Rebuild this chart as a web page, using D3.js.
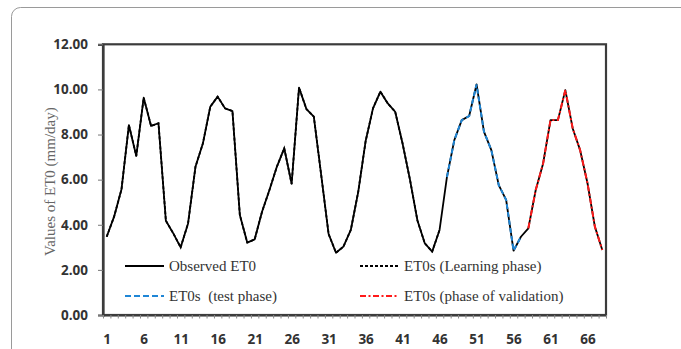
<!DOCTYPE html>
<html>
<head>
<meta charset="utf-8">
<script src="https://cdn.jsdelivr.net/npm/d3@7"></script>
<style>
  html, body { margin: 0; padding: 0; background: #fff; }
  svg { display: block; }
</style>
</head>
<body>
<svg id="chart" width="681" height="349"></svg>
<script>
// Monthly reference evapotranspiration, observed and simulated (mm/day)
const periods = d3.range(1, 69);
const observed = [
  3.47, 4.36, 5.57, 8.42, 7.05, 9.63, 8.38, 8.50, 4.18, 3.62,
  3.00, 4.06, 6.57, 7.60, 9.23, 9.68, 9.16, 9.04, 4.43, 3.21,
  3.35, 4.58, 5.54, 6.57, 7.39, 5.81, 10.08, 9.13, 8.79, 6.20,
  3.59, 2.76, 3.03, 3.77, 5.45, 7.70, 9.16, 9.90, 9.38, 9.01,
  7.60, 6.00, 4.20, 3.18, 2.81, 3.77, 6.12, 7.76, 8.64, 8.82,
  10.22, 8.13, 7.31, 5.76, 5.10, 2.85, 3.47, 3.84, 5.54, 6.72,
  8.64, 8.64, 9.97, 8.27, 7.31, 5.84, 3.91, 2.88
];
// Simulated ET0s for each phase, indexed by period
const learningPeriods = d3.range(1, 47);
const learning = [
  3.47, 4.36, 5.57, 8.42, 7.05, 9.63, 8.38, 8.50, 4.18, 3.62,
  3.00, 4.06, 6.57, 7.60, 9.23, 9.68, 9.16, 9.04, 4.43, 3.21,
  3.35, 4.58, 5.54, 6.57, 7.39, 5.81, 10.08, 9.13, 8.79, 6.20,
  3.59, 2.76, 3.03, 3.77, 5.45, 7.70, 9.16, 9.90, 9.38, 9.01,
  7.60, 6.00, 4.20, 3.18, 2.81, 3.77
];
const testPeriods = d3.range(47, 58);
const test = [6.12, 7.76, 8.64, 8.82, 10.22, 8.13, 7.31, 5.76, 5.10, 2.85, 3.47];
const validationPeriods = d3.range(58, 69);
const validation = [3.84, 5.54, 6.72, 8.64, 8.64, 9.97, 8.27, 7.31, 5.84, 3.91, 2.88];

const yTicks = [0, 2, 4, 6, 8, 10, 12];
const xLabels = [1, 6, 11, 16, 21, 26, 31, 36, 41, 46, 51, 56, 61, 66];
const legendItems = [
  { label: "Observed ET0", color: "#000", dash: null, width: 2 },
  { label: "ET0s (Learning phase)", color: "#000", dash: "3,2", width: 2 },
  { label: "ET0s\u00a0\u00a0(test phase)", color: "#1f86d6", dash: "6,3", width: 2.2 },
  { label: "ET0s (phase of validation)", color: "#ff1a1a", dash: "6,2.5,2,2.5", width: 2.2 }
];

const svg = d3.select("#chart");

// outer card frame
svg.append("rect")
  .attr("x", 11.5).attr("y", 7.5)
  .attr("width", 700).attr("height", 360)
  .attr("rx", 9).attr("ry", 9)
  .attr("fill", "none").attr("stroke", "#9a9a9a").attr("stroke-width", 1);

const plot = { left: 103, right: 606, top: 44.3, bottom: 315 };

const x = d3.scalePoint().domain(periods).range([plot.left, plot.right]).padding(0.5);
const xEdges = d3.scaleLinear().domain([0.5, 68.5]).range([plot.left, plot.right]);
const y = d3.scaleLinear().domain([0, 12]).range([plot.bottom, plot.top]);

// plot frame
svg.append("rect")
  .attr("x", plot.left).attr("y", plot.top)
  .attr("width", plot.right - plot.left).attr("height", plot.bottom - plot.top)
  .attr("fill", "none").attr("stroke", "#3c3c3c").attr("stroke-width", 2.2);

// y axis
const yAxis = svg.append("g")
  .attr("transform", `translate(${plot.left},0)`)
  .call(d3.axisLeft(y).tickValues(yTicks).tickFormat(d3.format(".2f")).tickSize(5).tickPadding(10));
yAxis.select(".domain").attr("stroke", "#3c3c3c").attr("stroke-width", 2.2);
yAxis.selectAll(".tick line").attr("stroke", "#777").attr("stroke-width", 1);
yAxis.selectAll("text")
  .attr("font-family", "'Open Sans', sans-serif").attr("font-weight", 700)
  .attr("font-size", 13.5).attr("fill", "#333");

// x axis: category boundary ticks
const xTickAxis = svg.append("g")
  .attr("transform", `translate(0,${plot.bottom})`)
  .call(d3.axisBottom(xEdges).tickValues(d3.range(0.5, 69, 1)).tickFormat("").tickSize(3.5).tickSizeOuter(0));
xTickAxis.select(".domain").attr("stroke", "#3c3c3c").attr("stroke-width", 2.2);
xTickAxis.selectAll(".tick line").attr("stroke", "#888").attr("stroke-width", 1);

// x axis labels
const xLabelAxis = svg.append("g")
  .attr("transform", `translate(0,${plot.bottom})`)
  .call(d3.axisBottom(x).tickValues(xLabels).tickSize(0).tickPadding(19));
xLabelAxis.select(".domain").remove();
xLabelAxis.selectAll("text")
  .attr("font-family", "'Open Sans', sans-serif").attr("font-weight", 700)
  .attr("font-size", 13.5).attr("fill", "#333");

// y axis title
svg.append("text")
  .attr("transform", `translate(50,${(plot.top + plot.bottom) / 2 + 2}) rotate(-90)`)
  .attr("text-anchor", "middle").attr("dominant-baseline", "central")
  .attr("font-family", "'Liberation Serif', 'Times New Roman', serif")
  .attr("font-size", 15).attr("fill", "#666")
  .text("Values of ET0 (mm/day)");

// series lines
const line = (ps, vs) => d3.line().x((d, i) => x(ps[i])).y(d => y(d))(vs);

svg.append("path").attr("d", line(periods, observed))
  .attr("fill", "none").attr("stroke", "#000").attr("stroke-width", 1.8).attr("stroke-linejoin", "round");
svg.append("path").attr("d", line(learningPeriods, learning))
  .attr("fill", "none").attr("stroke", "#000").attr("stroke-width", 1.8).attr("stroke-dasharray", "3,2");
svg.append("path").attr("d", line(testPeriods, test))
  .attr("fill", "none").attr("stroke", legendItems[2].color).attr("stroke-width", 2).attr("stroke-dasharray", "5,3");
svg.append("path").attr("d", line(validationPeriods, validation))
  .attr("fill", "none").attr("stroke", legendItems[3].color).attr("stroke-width", 2).attr("stroke-dasharray", "6,2.5,2,2.5");

// legend
const legendPos = [
  { x: 125, y: 266 }, { x: 360, y: 266 },
  { x: 125, y: 296 }, { x: 360, y: 296 }
];
legendItems.forEach((item, i) => {
  const p = legendPos[i];
  const g = svg.append("g").attr("transform", `translate(${p.x},${p.y})`);
  g.append("line").attr("x1", 0).attr("x2", 39).attr("y1", 0).attr("y2", 0)
    .attr("stroke", item.color).attr("stroke-width", item.width)
    .attr("stroke-dasharray", item.dash);
  g.append("text").attr("x", 44).attr("y", 0).attr("dy", "0.35em")
    .attr("font-family", "'Liberation Serif', 'Times New Roman', serif")
    .attr("font-size", 15).attr("fill", "#333")
    .text(item.label);
});
</script>
</body>
</html>
